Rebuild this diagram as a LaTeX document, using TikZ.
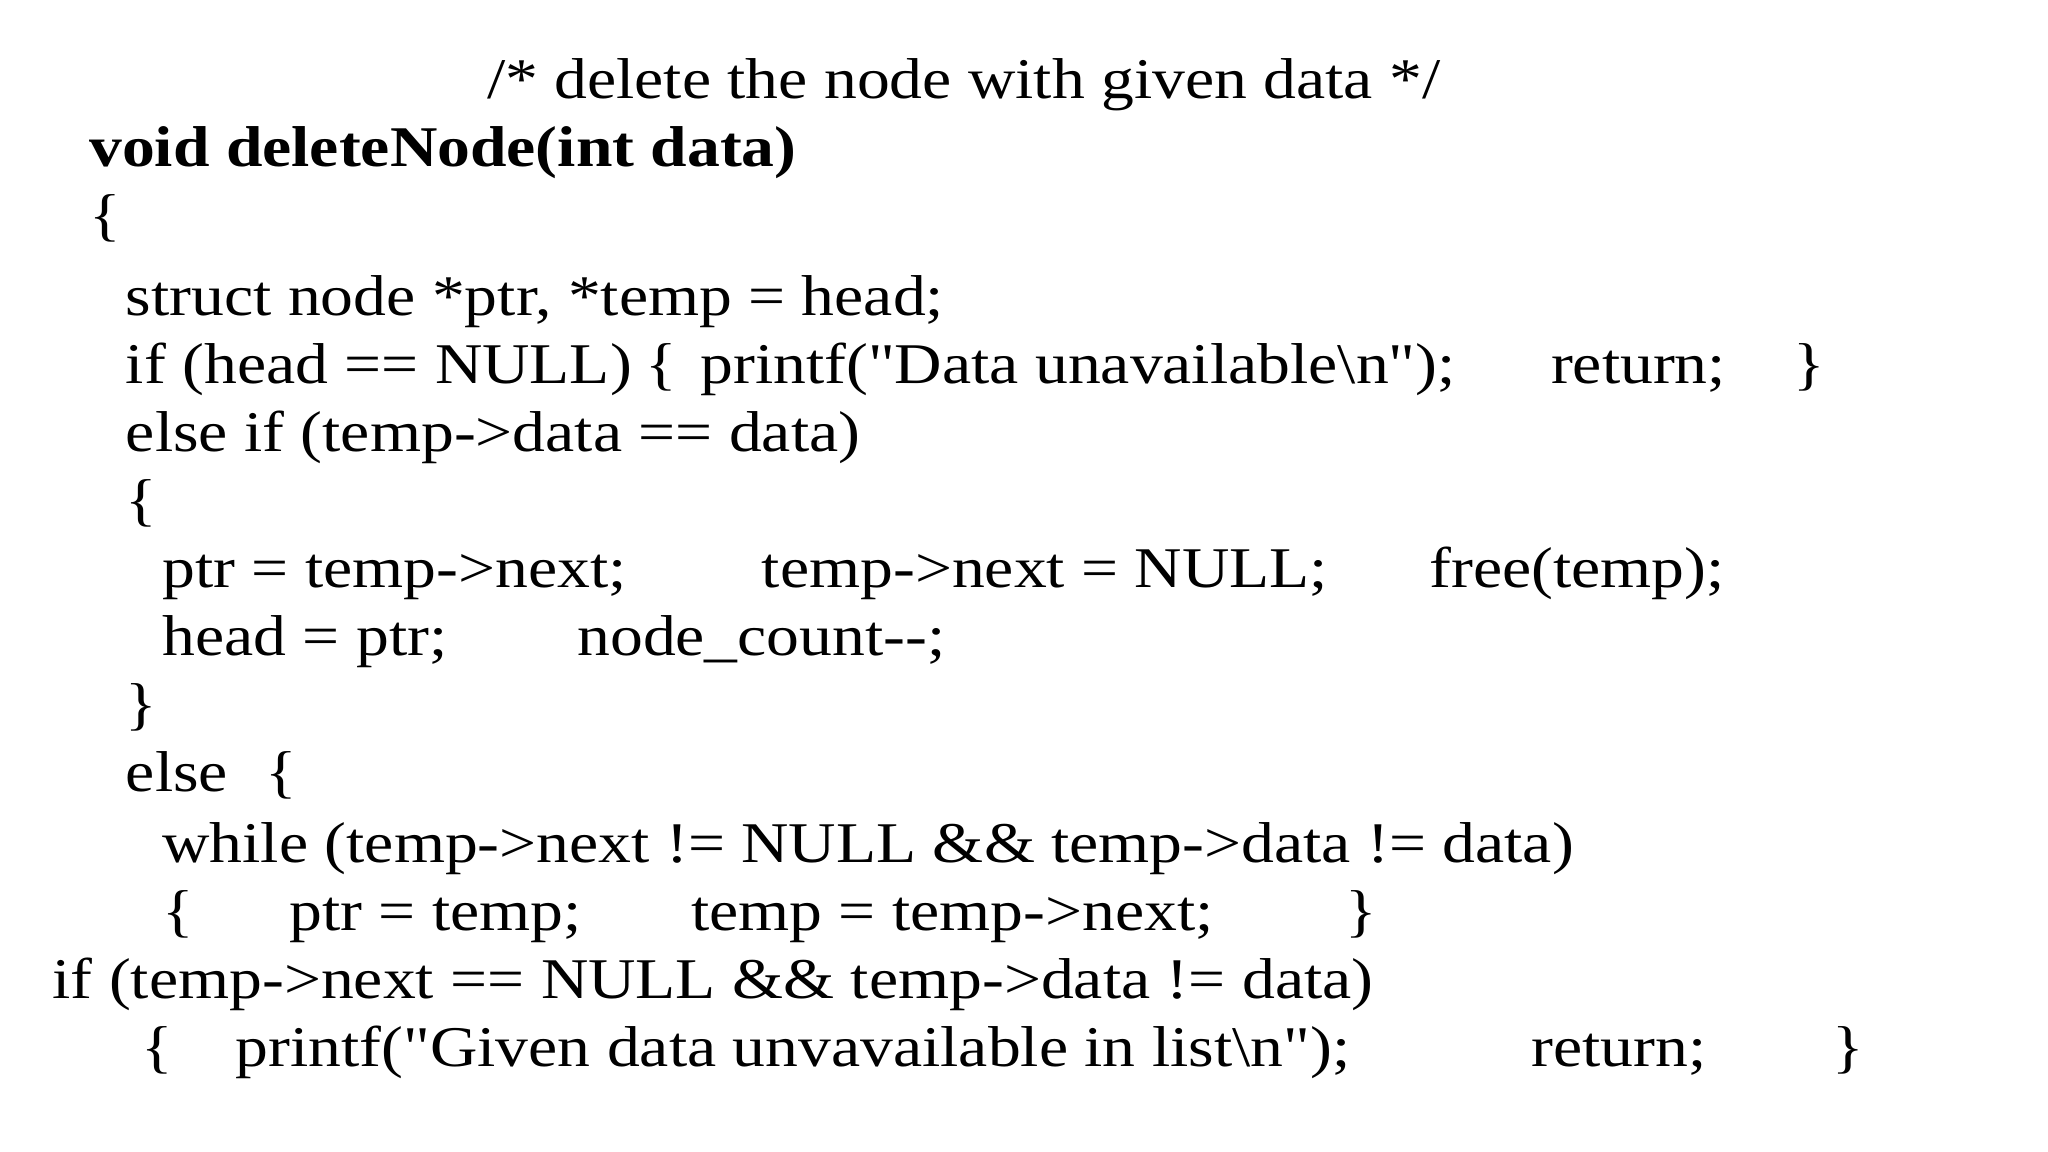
\documentclass[tikz,border=0pt]{standalone}
\usepackage{fontspec}
\newfontfamily\cf[FakeStretch=1.14]{Liberation Serif}
\begin{document}
\begin{tikzpicture}[x=1pt,y=-1pt,
  txt/.style={anchor=base west,inner sep=0pt,font=\cf\fontsize{44}{50}\selectfont}]
\useasboundingbox (0,0) rectangle (1565,880);
\fill[white] (0,0) rectangle (1565,880);
\node[txt] (a1) at (372,75) {/* delete the node with given data */};
\node[txt,font=\cf\bfseries\fontsize{44}{50}\selectfont] (a2) at (68,127) {void deleteNode(int data)};
\node[txt] (a3) at (68,179) {\{};
\node[txt] (a4) at (96,241) {struct node *ptr, *temp = head;};
\node[txt] (a5) at (96,293) {if (head == NULL)};
\node[txt] (a5b) at (493,293) {\{};
\node[txt] (a5c) at (535,293) {printf("Data unavailable\textbackslash n");};
\node[txt] (a5d) at (1185,293) {return;};
\node[txt] (a5e) at (1370,293) {\}};
\node[txt] (a6) at (96,345) {else if (temp->data == data)};
\node[txt] (a7) at (96,397) {\{};
\node[txt] (a8) at (124,449) {ptr = temp->next;};
\node[txt] (a8b) at (582,449) {temp->next = NULL;};
\node[txt] (a8c) at (1092,449) {free(temp);};
\node[txt] (a9) at (124,501) {head = ptr;};
\node[txt] (a9b) at (441,501) {node\_count-{}-;};
\node[txt] (a10) at (96,553) {\}};
\node[txt] (a11) at (96,605) {else};
\node[txt] (a11b) at (203,605) {\{};
\node[txt] (a12) at (124,659) {while (temp->next != NULL \&\& temp->data != data)};
\node[txt] (a13) at (124,711) {\{};
\node[txt] (a13b) at (221,711) {ptr = temp;};
\node[txt] (a13c) at (528,711) {temp = temp->next;};
\node[txt] (a13d) at (1028,711) {\}};
\node[txt] (a14) at (40,763) {if (temp->next == NULL \&\& temp->data != data)};
\node[txt] (a15) at (108,815) {\{};
\node[txt] (a15b) at (180,815) {printf("Given data unvavailable in list\textbackslash n");};
\node[txt] (a15c) at (1170,815) {return;};
\node[txt] (a15d) at (1400,815) {\}};
\end{tikzpicture}
\end{document}
